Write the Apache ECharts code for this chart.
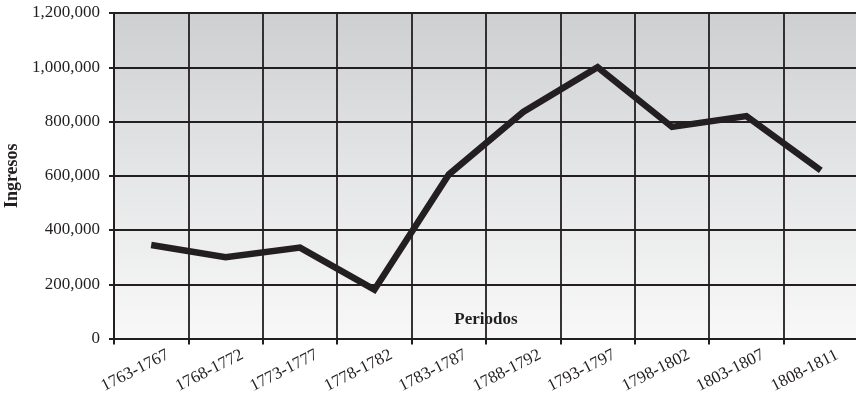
<!DOCTYPE html>
<html>
<head>
<meta charset="utf-8">
<script src="https://cdn.jsdelivr.net/npm/echarts@6/dist/echarts.min.js"></script>
<style>
  html, body { margin: 0; padding: 0; background: #ffffff; }
  #chart { width: 856px; height: 405px; }
</style>
</head>
<body>
<div id="chart"></div>
<script>
// Five-year periods and the income recorded for each one
const periodos = ['1763-1767', '1768-1772', '1773-1777', '1778-1782', '1783-1787',
                  '1788-1792', '1793-1797', '1798-1802', '1803-1807', '1808-1811'];
const ingresos = [345000, 300000, 335000, 180000, 605000,
                  835000, 1000000, 780000, 820000, 620000];
const yTicks = { min: 0, max: 1200000, interval: 200000 };

const ink = '#231f20';
const serif = '"Liberation Serif", "Times New Roman", serif';

const chart = echarts.init(document.getElementById('chart'), null, { renderer: 'canvas' });

chart.setOption({
  animation: false,
  backgroundColor: '#ffffff',
  grid: {
    left: 114, right: -2, top: 13, bottom: 66.5,
    outerBoundsMode: 'none',
    containLabel: false,
    show: true,
    borderWidth: 0,
    backgroundColor: new echarts.graphic.LinearGradient(0, 0, 0, 1, [
      { offset: 0, color: '#cecfd1' },
      { offset: 0.5, color: '#e5e6e7' },
      { offset: 1, color: '#f8f8f8' }
    ])
  },
  xAxis: {
    type: 'category',
    data: periodos,
    boundaryGap: true,
    name: 'Periodos',
    nameLocation: 'middle',
    nameGap: -18.5,
    nameTextStyle: {
      fontFamily: serif, fontSize: 17, fontWeight: 'bold', color: ink,
      verticalAlign: 'middle'
    },
    axisLine: { show: true, lineStyle: { color: ink, width: 2 } },
    axisTick: { show: true, length: 6, lineStyle: { color: ink, width: 2 } },
    splitLine: { show: true, lineStyle: { color: ink, width: 1.8 } },
    axisLabel: {
      interval: 0,
      rotate: 27,
      align: 'center',
      verticalAlign: 'middle',
      padding: [0, 36, 0, 0],
      margin: 24,
      fontFamily: serif, fontSize: 17, color: ink
    }
  },
  yAxis: {
    type: 'value',
    min: yTicks.min,
    max: yTicks.max,
    interval: yTicks.interval,
    name: 'Ingresos',
    nameLocation: 'middle',
    nameRotate: 90,
    nameGap: 101,
    nameTextStyle: {
      fontFamily: serif, fontSize: 18, fontWeight: 'bold', color: ink,
      verticalAlign: 'middle', align: 'center'
    },
    axisLine: { show: true, lineStyle: { color: ink, width: 2 } },
    axisTick: { show: true, length: 5, lineStyle: { color: ink, width: 2 } },
    splitLine: { show: true, lineStyle: { color: ink, width: 2 } },
    axisLabel: {
      margin: 14,
      fontFamily: serif, fontSize: 17, color: ink,
      formatter: v => v.toLocaleString('en-US')
    }
  },
  series: [{
    type: 'line',
    data: ingresos,
    showSymbol: false,
    symbol: 'none',
    lineStyle: { color: ink, width: 6.5, join: 'miter', cap: 'butt' },
    silent: true
  }]
});
</script>
</body>
</html>
